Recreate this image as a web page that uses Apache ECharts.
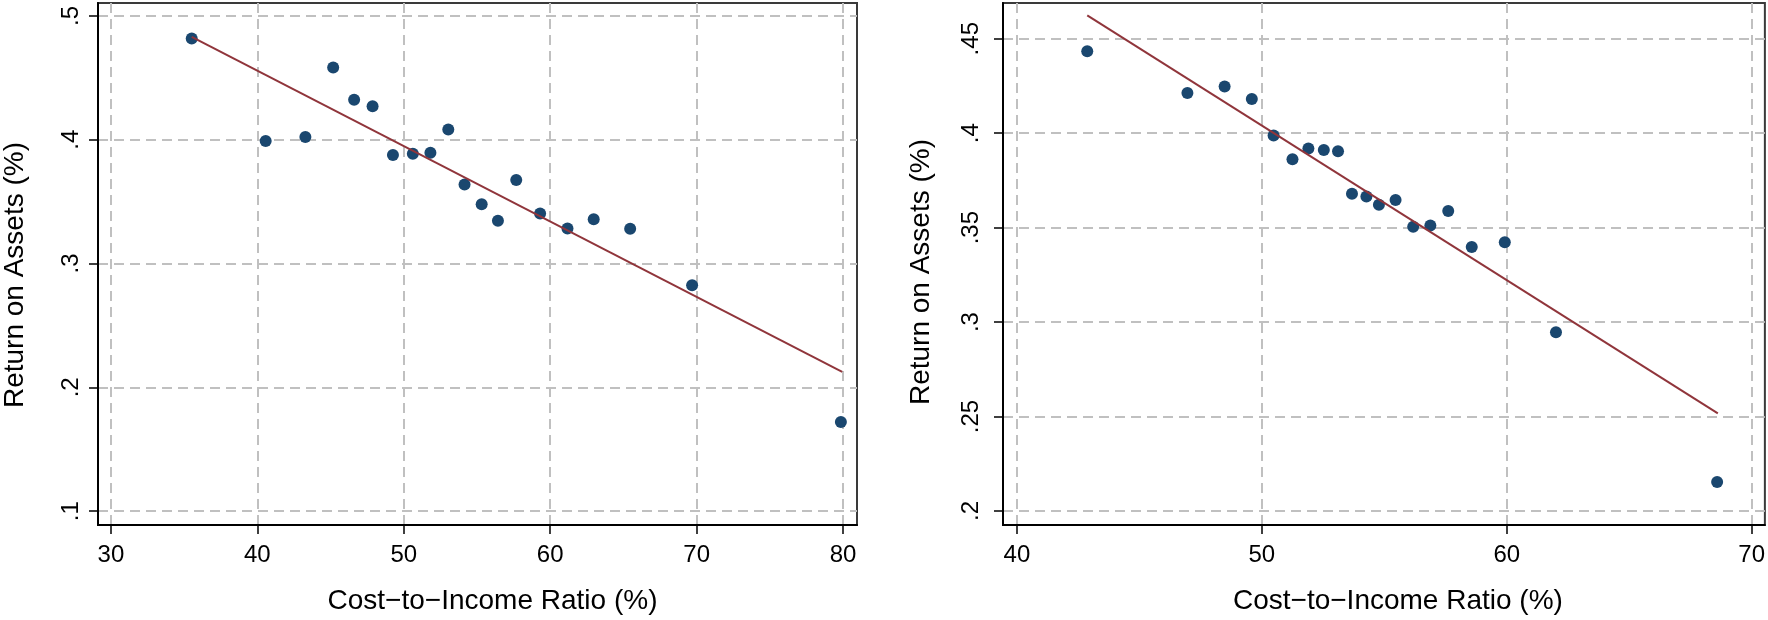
<!DOCTYPE html>
<html>
<head>
<meta charset="utf-8">
<script src="https://cdn.jsdelivr.net/npm/echarts@6/dist/echarts.min.js"></script>
<style>
html,body{margin:0;padding:0;background:#fff;}
#chart{width:1768px;height:620px;}
</style>
</head>
<body>
<div id="chart"></div>
<script>
// ---- Data ----
// Left panel
const leftCIR = [35.52, 40.57, 43.28, 45.18, 46.61, 47.87, 49.26, 50.62, 51.82, 53.04, 54.15, 55.32, 56.43, 57.68, 59.31, 61.18, 62.97, 65.46, 69.69, 79.85];
const leftROA = [0.4818, 0.3989, 0.4021, 0.4583, 0.4323, 0.4270, 0.3876, 0.3887, 0.3895, 0.4082, 0.3638, 0.3478, 0.3346, 0.3675, 0.3403, 0.3282, 0.3357, 0.3280, 0.2825, 0.1720];
const leftFitX = [35.52, 79.94];
const leftFitY = [0.4831, 0.2124];
// Right panel
const rightCIR = [42.87, 46.96, 48.48, 49.59, 50.48, 51.25, 51.90, 52.53, 53.11, 53.68, 54.27, 54.78, 55.46, 56.18, 56.88, 57.61, 58.57, 59.92, 62.01, 68.59];
const rightROA = [0.4433, 0.4212, 0.4247, 0.4181, 0.3988, 0.3862, 0.3919, 0.3911, 0.3904, 0.3679, 0.3665, 0.3621, 0.3646, 0.3505, 0.3511, 0.3588, 0.3398, 0.3423, 0.2946, 0.2154];
const rightFitX = [42.87, 68.62];
const rightFitY = [0.4623, 0.2517];
// Tick labels
const leftXTicks = [30, 40, 50, 60, 70, 80];
const leftYTicks = [0.1, 0.2, 0.3, 0.4, 0.5];
const rightXTicks = [40, 50, 60, 70];
const rightYTicks = [0.2, 0.25, 0.3, 0.35, 0.4, 0.45];
const xTitle = 'Cost\u2212to\u2212Income Ratio (%)';
const yTitle = 'Return on Assets (%)';

// ---- Build ----
const FONT = "'Liberation Sans', Arial, Helvetica, sans-serif";
const dotColor = '#1a476f';
const fitColor = '#90353b';
const gridColor = '#c0c0c0';

function pairs(xs, ys){ return xs.map((x,i)=>[x, ys[i]]); }
function fmtY(v){ return String(+v.toFixed(4)).replace(/^0\./, '.'); }

function xAxisCfg(gridIndex, min, max, ticks, padLeft){
  return {
    type: 'value', gridIndex, min, max,
    name: xTitle, nameLocation: 'middle', nameGap: 62,
    nameTextStyle: {fontSize: 28, color: '#000', fontFamily: FONT, padding: [0,0,0,padLeft]},
    axisLine: {show: true, onZero: false, lineStyle: {color: '#000', width: 2}},
    axisTick: {show: true, length: 9, customValues: ticks, lineStyle: {color: '#000', width: 1.5}},
    axisLabel: {customValues: ticks, fontSize: 24, color: '#000', fontFamily: FONT, margin: 18},
    splitLine: {show: true, lineStyle: {color: gridColor, width: 2, type: [10, 6]}}
  };
}
function yAxisCfg(gridIndex, min, max, ticks, nameGap, labelMargin, padRight){
  return {
    type: 'value', gridIndex, min, max,
    name: yTitle, nameLocation: 'middle', nameGap: nameGap, nameRotate: 90,
    nameTextStyle: {fontSize: 28, color: '#000', fontFamily: FONT, padding: [0,padRight,0,0]},
    axisLine: {show: true, onZero: false, lineStyle: {color: '#000', width: 2}},
    axisTick: {show: true, length: 9, customValues: ticks, lineStyle: {color: '#000', width: 1.5}},
    axisLabel: {customValues: ticks, rotate: 90, fontSize: 24, color: '#000', fontFamily: FONT, margin: labelMargin, formatter: fmtY},
    splitLine: {show: true, lineStyle: {color: gridColor, width: 2, type: [10, 6]}}
  };
}

const option = {
  animation: false,
  backgroundColor: '#fff',
  grid: [
    {left: 94, right: 911, top: 3, bottom: 92, show: true, borderColor: '#3a3a3a', borderWidth: 2},
    {left: 1003, right: 2, top: 3, bottom: 92, show: true, borderColor: '#3a3a3a', borderWidth: 2}
  ],
  xAxis: [
    xAxisCfg(0, 29.12, 80.95, leftXTicks, 30),
    xAxisCfg(1, 39.43, 70.54, rightXTicks, 28)
  ],
  yAxis: [
    yAxisCfg(0, 0.0888, 0.5104, leftYTicks, 69, 15, 22),
    yAxisCfg(1, 0.1926, 0.4689, rightYTicks, 68, 20, 16)
  ],
  series: [
    {type: 'scatter', xAxisIndex: 0, yAxisIndex: 0, data: pairs(leftCIR, leftROA), symbolSize: 12, itemStyle: {color: dotColor, opacity: 1}},
    {type: 'line', xAxisIndex: 0, yAxisIndex: 0, data: pairs(leftFitX, leftFitY), showSymbol: false, symbol: 'none', lineStyle: {color: fitColor, width: 2}, z: 3},
    {type: 'scatter', xAxisIndex: 1, yAxisIndex: 1, data: pairs(rightCIR, rightROA), symbolSize: 12, itemStyle: {color: dotColor, opacity: 1}},
    {type: 'line', xAxisIndex: 1, yAxisIndex: 1, data: pairs(rightFitX, rightFitY), showSymbol: false, symbol: 'none', lineStyle: {color: fitColor, width: 2}, z: 3}
  ]
};
const chart = echarts.init(document.getElementById('chart'), null, {renderer: 'canvas'});
chart.setOption(option);
</script>
</body>
</html>
